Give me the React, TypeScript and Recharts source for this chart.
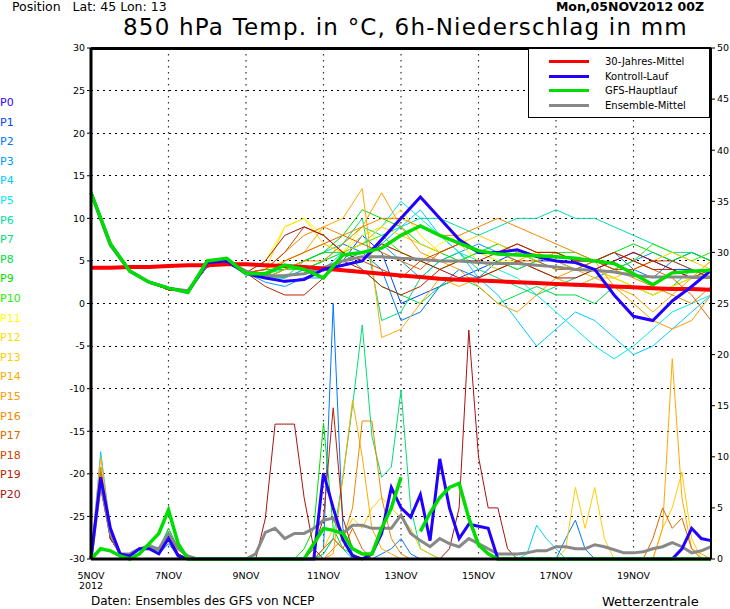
import React from 'react'
import { LineChart, Line, XAxis, YAxis, CartesianGrid, ReferenceLine } from 'recharts'

// 6-hourly steps from 05NOV2012 00Z, 65 steps (0..64)
const DATE_TICKS = [0, 8, 16, 24, 32, 40, 48, 56]
const DATE_LABELS = ['5NOV', '7NOV', '9NOV', '11NOV', '13NOV', '15NOV', '17NOV', '19NOV']
const TEMP_TICKS = [-30, -25, -20, -15, -10, -5, 0, 5, 10, 15, 20, 25, 30]
const RAIN_TICKS = [0, 5, 10, 15, 20, 25, 30, 35, 40, 45, 50]

const MEMBER_COLORS = [
  '#3300ff', '#0044ff', '#0077ff', '#0099ff', '#00ccff', '#00eeee', '#00ddaa', '#00dd77', '#00dd44', '#00dd00',
  '#22ee00', '#ffff00', '#ffdd00', '#ffcc00', '#ffaa00', '#ff9900', '#ee8800', '#dd6600', '#cc4400', '#bb2200', '#aa1111',
]

// 850 hPa temperature, 12-hourly (33 values)
const START = [13, 7, 3.8, 2.5, 1.6, 1.5, 4.3, 4.8, 3.6]
const P1T = [...START, 3, 2.5, 3, 4, 5, 8, 6, 0, 1, 2, 3, 4, 5, 6, 5, 5, 4, 4, 5, 6, 5, 4, 4, 3]
const P2T = [...START, 3.5, 3, 4, 5, 7, 6, 4, -2, -1, 2, 4, 3, 5, 4, 5, 6, 5, 5, 6, 4, 3, 5, 6, 5]
const P3T = [...START, 2.5, 2, 3, 3, 5, 6, 7, 5, 3, 5, 6, 7, 6, 5, 4, 3, 2, 3, 4, 5, 6, 5, 4, 3]
const P4T = [...START, 3, 3, 4, 4, 6, 5, 7, 9, 11, 8, 6, 3, 1, -2, -5, -3, -1, -2, -4, -6, -5, -3, -1, 1]
const P5T = [...START, 3.5, 4, 4, 5, 6, 7, 9, 12, 10, 8, 6, 5, 4, 3, 1, -1, -3, -5, -6.5, -5, -3, -1, 0, 1]
const P6T = [...START, 3, 4, 5, 6, 7, 9, 8, 9, 10, 10, 9, 8, 9, 10, 10, 11, 10, 10, 9, 8, 7, 6, 6, 5]
const P7T = [...START, 3, 4, 4, 5, 7, 10, -2, -1, 3, 5, 6, 4, 3, 2, 1, 2, 3, 4, 3, 2, 1, 2, 3, 3]
const P8T = [...START, 3, 3, 5, 6, 6, 4, 2, 1, 0, 2, 3, 2, 0, 1, 2, 1, 1, 0, 2, 2, 1, 2, 4, 3]
const P9T = [...START, 4, 4, 5, 6, 8, 11, 10, 9, 7, 6, 5, 6, 7, 6, 5, 4, 4, 5, 6, 7, 6, 5, 6, 5]
const P10T = [...START, 3, 4, 4, 5, 6, 7, 8, 6, 5, 4, 5, 6, 5, 4, 5, 6, 6, 5, 4, 5, 7, 6, 5, 6]
const P11T = [...START, 5, 9, 10, 8, 6, 9, 7, 6, 5, 7, 8, 6, 5, 5, 6, 6, 5, 4, 3, 2, 1, 2, 3, 4]
const P12T = [...START, 4, 9, 10, 7, 6, 8, 9, 11, 8, 6, 7, 5, 4, 5, 4, 3, 2, 3, 3, 2, 1, 2, 3, 5]
const P13T = [...START, 3, 5, 6, 7, 6, 7, 9, 8, 7, 6, 7, 8, 7, 6, 5, 6, 5, 4, 3, 4, 5, 6, 5, 4]
const P14T = [...START, 4, 5, 6, 9, 10, 13.5, -4, -3, 0, 3, 2, 3, 4, 5, 6, 5, 4, 3, 2, 1, -1, 1, 3, 5]
const P15T = [...START, 3, 4, 5, 5, 7, 9, 13, 9, 6, 5, 4, 2, 0, -1, 1, 3, 4, 5, 2, 0, -2, -3, -2, 1]
const P16T = [...START, 4, 6, 8, 9, 8, 9, 10, 10, 9, 8, 8, 9, 10, 9, 8, 7, 6, 5, 4, 3, 2, 1, 0, 2]
const P17T = [...START, 3, 5, 6, 7, 8, 7, 6, 5, 4, 6, 7, 6, 6, 5, 5, 4, 4, 5, 6, 5, 4, 3, 1, -2]
const P18T = [...START, 4, 6, 9, 8, 6, 5, 4, 3, 5, 6, 7, 6, 6, 7, 6, 6, 5, 5, 4, 4, 5, 5, 4, 3]
const P19T = [...START, 2, 1, 1, 3, 5, 4, 2, 1, 2, 4, 5, 5, 6, 7, 6, 6, 5, 5, 6, 5, 4, 4, 3, 4]
const P20T = [...START, 5, 8, 9, 8, 6, 5, 7, 6, 5, 4, 3, 3, 4, 5, 4, 3, 3, 4, 5, 6, 5, 4, 3, 3]
const MEMBER_TEMPS = [P1T, P2T, P3T, P4T, P5T, P6T, P7T, P8T, P9T, P10T, P11T, P12T, P13T, P14T, P15T, P16T, P17T, P18T, P19T, P20T]

const CTRL_T = [13, 7, 3.8, 2.5, 1.8, 1.3, 4.8, 5, 3.5, 3, 2.6, 2.8, 4, 4.5, 5, 7.5, 10, 12.5, 10, 7.5, 6, 6, 6.3, 5.5, 5, 4.8, 4, 1, -1.5, -2, 0.3, 2, 3.9]
const GFS_T = [13, 7, 3.8, 2.5, 1.8, 1.3, 5, 5.3, 3.5, 3.5, 4.5, 4, 3, 5.7, 6, 6.5, 8, 9.1, 8, 7.1, 6.2, 5.8, 5.7, 5.6, 5.5, 5.3, 5, 4.7, 3.5, 2.2, 3.6, 3.8, 3.9]
const MEAN_T = [13, 6.8, 3.8, 2.5, 1.8, 1.5, 4.5, 5, 3.8, 3.2, 3.3, 3.5, 4.2, 5, 5.5, 5.5, 5.3, 5.2, 5, 5, 4.8, 4.7, 4.7, 4.5, 4.3, 4, 3.9, 3.7, 3.3, 3.1, 3.1, 3.1, 3.1]
const CLIM_T = [4.2, 4.2, 4.3, 4.3, 4.4, 4.5, 4.5, 4.6, 4.6, 4.5, 4.4, 4.3, 4.1, 3.9, 3.7, 3.5, 3.3, 3.1, 2.9, 2.8, 2.7, 2.6, 2.5, 2.4, 2.3, 2.2, 2.1, 2, 1.9, 1.8, 1.7, 1.7, 1.6]

// 6h precipitation in mm, 6-hourly (65 values)
const Z13 = [0, 0, 0, 0, 0, 0, 0, 0, 0, 0, 0, 0, 0]
const P2R = [0, 9, 2, 0.5, 0.3, 1, 1, 0.5, 1.5, 0.3, 0, 0, 0, 0, 0, 0, 0, 0, 0, 0, 0, 0, 0, 0, 1, 25,
  3, 0.5, 0, 0, 0.5, 1, 2, 0.5, 0, 0, 0, 0, 0, 0, 0, 0, 0, 0, 0, 0, 0, 0, 0, 2, 3.8, 1, ...Z13]
const P4R = [0, 10.5, 3, 0.5, 0.5, 1, 1.5, 1, 3, 1, 0, 0, 0, 0, 0, 0, 0, 0, 0, 0, 0, 0, 0, 0, 0.5, 2,
  1, 0, 0, 0, 0, 0, 0, 0, 0, 0, 0, 0, 0, 0, 0, 0, 0, 0, 0, 0.5, 3.3, 2, 1, 0, 0, 0, ...Z13]
const P7R = [0, 8, 2.5, 0.5, 0.3, 1, 1.3, 1, 2.5, 0.5, 0, 0, 0, 0, 0, 0, 0, 0, 0, 0, 0, 0, 0, 0, 0.5, 2,
  8, 15, 22.9, 12, 8, 9, 16.5, 5, 1, 0.5, 0, 0, 0, ...Z13, ...Z13]
const P9R = [0, 8, 2, 0.5, 0.3, 1, 1, 0.8, 3, 1, 0, 0, 0, 0, 0, 0, 0, 0, 0, 0, 0, 0, 1, 3, 13.3, 3,
  1, 0.5, 0, 0, 0, 0, 0, 0, 0, 0, 0, 0, 0, ...Z13, ...Z13]
const P13R = [0, 9, 2.5, 0.5, 0.5, 1, 1.2, 1, 2, 0.5, 0, 0, 0, 0, 0, 0, 0, 0, 0, 0, 0, 0, 0, 0, 1, 3,
  2, 4, 3, 5, 6, 5, 4, 3, 1, 0.5, 0, 0, 0, 0, 0, 0, 0, 0, 0, 0, 0, 0, 0, 1, 7, 3,
  7, 2, 0, 0, 0, 0, 0, 3, 5, 8.5, 2, 0, 0]
const P14R = [0, 10, 3, 0.5, 0.5, 1, 1, 1, 2, 0.5, 0, 0, 0, 0, 0, 0, 0, 0, 0, 0, 0, 0, 0, 0, 0, 0.5,
  8, 15.5, 10, 3, 1, 0.5, 0, 0, 0, 0, 0, 0, 0, ...Z13,
  0, 0, 0, 0, 0, 0, 0, 3, 19.6, 6, 1, 0.5, 0]
const P16R = [0, 9, 2, 0.5, 0.5, 1, 1.4, 1, 2, 0.5, 0, 0, 0, 0, 0, 0, 0, 0, 0, 0, 0, 0, 0, 0, 0, 1,
  2, 5, 13.5, 13.5, 6, 2, 0.5, 0, 0, 0, 0, 0, 0, ...Z13, ...Z13]
const P17R = [0, 8.5, 2, 0.5, 0.5, 1, 1, 1, 2, 0.5, 0, 0, 0, 0, 0, 0, 0, 0, 0, 0, 0, 0, 0, 0, 1, 2,
  1, 3, 1, 0, 0, 0, 0, 0, 0, 0, 0, 0, 0, ...Z13,
  0, 0, 0, 0, 0, 0, 2, 5, 3, 4, 1, 0, 0]
const P19R = [0, 8, 2, 0.5, 0.3, 1, 1, 1, 2.5, 0.5, 0, 0, 0, 0, 0, 0, 0, 0, 0, 0, 0, 0, 0, 1, 4, 14.8,
  4, 1, 0.5, 0, 0, 0, 0, 0, 0, 0, 0, 0, 0, ...Z13, ...Z13]
const P20R = [0, 7, 2, 0.5, 0.3, 1, 1, 1, 2, 0.5, 0, 0, 0, 0, 0, 0, 0, 0, 4, 13.2, 13.2, 13.2, 6, 1, 0, 0,
  0, 0, 0, 0, 0, 0, 0, 0, 0, 0, 0, 1, 5, 22.4, 10, 5, 5, 1, 0, 0, 0, 0, 0, 0, 0, 0, ...Z13]
const MEMBER_RAIN: [number, number[]][] = [
  [2, P2R], [4, P4R], [7, P7R], [9, P9R], [13, P13R], [14, P14R], [16, P16R], [17, P17R], [19, P19R], [20, P20R],
]

const CTRL_R = [0, 8, 3, 0.5, 0.3, 1, 1, 0.5, 2, 0.3, 0, 0, 0, 0, 0, 0, 0, 0, 0, 0, 0, 0, 0, 0, 8.4, 5,
  1.9, 0.3, 0, 0.5, 2.5, 7, 5, 4.1, 6.3, 1.8, 9.8, 5, 2, 3.4, 3.2, 3, 0, 0, 0, 0, 0, 0, 0, 0, 0, 0,
  0, 0, 0, 0, 0, 0, 0, 0, 0, 1, 3, 2, 1.8]
const GFS_R: (number | null)[] = [0, 1, 0.8, 0.3, 0, 0.5, 1.5, 2.5, 4.8, 1.5, 0, 0, 0, 0, 0, 0, 0, 0, 0, 0, 0, 0, 0, 1.5, 3, 2.8,
  2.5, 1, 0.5, 0.5, 3, 5, 8, null, 2.7, 4.5, 6, 7, 7.4, 4, 1.4, 0.5, 0, 0, 0, 0, 0, 0, 0, 0, 0, 0,
  0, 0, 0, 0, 0, 0, 0, 0, 0, 0, 0, 0, 0]
const MEAN_R = [0, 7.5, 2.5, 0.5, 0.5, 1, 1.2, 1, 2.5, 1, 0.3, 0, 0, 0, 0, 0, 0, 0.5, 2.6, 3, 2, 2.5, 2.5, 3, 3.8, 4,
  2.5, 3.3, 3.3, 3, 3, 3, 4.3, 2.5, 1.8, 1.2, 2, 1.5, 1.2, 2, 1.5, 1, 0.5, 0.5, 0.5, 0.6, 0.8, 0.8, 1.2, 1.2, 1, 1,
  1.4, 1.2, 0.9, 0.6, 0.6, 0.7, 1, 1.2, 1.6, 1.2, 0.6, 0.8, 1.2]

const data = Array.from({ length: 65 }, (_, t) => {
  const row: Record<string, number | null | undefined> = { t }
  const even = t % 2 === 0
  MEMBER_TEMPS.forEach((arr, i) => { row[`p${i + 1}t`] = even ? arr[t / 2] : undefined })
  MEMBER_RAIN.forEach(([m, arr]) => { row[`p${m}r`] = arr[t] })
  row.ctrlT = even ? CTRL_T[t / 2] : undefined
  row.gfsT = even ? GFS_T[t / 2] : undefined
  row.meanT = even ? MEAN_T[t / 2] : undefined
  row.climT = even ? CLIM_T[t / 2] : undefined
  row.ctrlR = CTRL_R[t]
  row.gfsR = GFS_R[t]
  row.meanR = MEAN_R[t]
  return row
})

const font = '"DejaVu Sans", sans-serif'

function DateTick(props: any) {
  const { x, y, payload } = props
  const idx = DATE_TICKS.indexOf(payload.value)
  return (
    <g>
      <text x={x} y={y + 12} textAnchor="middle" fontSize={9.5} fontFamily={font} fill="#000">{DATE_LABELS[idx]}</text>
      {idx === 0 && <text x={x} y={y + 22} textAnchor="middle" fontSize={9.5} fontFamily={font} fill="#000">2012</text>}
    </g>
  )
}

const LEGEND = [
  { label: '30-Jahres-Mittel', color: '#ff0000' },
  { label: 'Kontroll-Lauf', color: '#2200ff' },
  { label: 'GFS-Hauptlauf', color: '#00dd00' },
  { label: 'Ensemble-Mittel', color: '#888888' },
]

export default function App() {
  return (
    <div style={{ position: 'absolute', left: 0, top: 0, width: 730, height: 609, background: '#fff', fontFamily: font }}>
      <div style={{ position: 'absolute', left: 12, top: -1, fontSize: 12.5 }}>Position&nbsp;&nbsp; Lat: 45 Lon: 13</div>
      <div style={{ position: 'absolute', right: 26, top: -1, fontSize: 12.5, fontWeight: 'bold' }}>Mon,05NOV2012 00Z</div>
      <div style={{ position: 'absolute', left: 123, top: 14, fontSize: 23, letterSpacing: 1.2, lineHeight: '26px' }}>850 hPa Temp. in °C, 6h-Niederschlag in mm</div>
      {MEMBER_COLORS.map((c, i) => (
        <div key={i} style={{ position: 'absolute', left: 0, top: 96 + i * 19.6, fontSize: 11, color: c }}>P{i}</div>
      ))}
      <LineChart width={730} height={609} data={data} margin={{ top: 48, left: 61, right: 0, bottom: 30 }}>
        <CartesianGrid stroke="#333" strokeWidth={1.2} strokeDasharray="1.5 4.5" horizontal={false} />
        <XAxis dataKey="t" type="number" domain={[0, 64]} ticks={DATE_TICKS} tick={<DateTick />} interval={0}
          axisLine={{ stroke: '#000', strokeWidth: 3 }} tickLine={false} height={20} />
        <YAxis type="number" domain={[-30, 30]} ticks={TEMP_TICKS} interval={0} width={30}
          tick={{ fontSize: 9.5, fill: '#000', fontFamily: font }} axisLine={{ stroke: '#000', strokeWidth: 3 }}
          tickLine={{ stroke: '#000' }} tickSize={4} />
        <YAxis yAxisId="rain" type="number" orientation="right" domain={[0, 50]} ticks={RAIN_TICKS} interval={0} width={19}
          tick={{ fontSize: 9.5, fill: '#000', fontFamily: font }} axisLine={{ stroke: '#000', strokeWidth: 2 }}
          tickLine={{ stroke: '#000' }} tickSize={4} />
        {TEMP_TICKS.map((v) => (
          <ReferenceLine key={`g${v}`} y={v} stroke="#000" strokeWidth={v === 30 ? 3 : 1}
            strokeDasharray={v === 30 ? undefined : '2 4'} shapeRendering="crispEdges" />
        ))}
        {MEMBER_RAIN.map(([m]) => (
          <Line key={`r${m}`} yAxisId="rain" dataKey={`p${m}r`} stroke={MEMBER_COLORS[m]} strokeWidth={1}
            dot={false} isAnimationActive={false} />
        ))}
        {MEMBER_TEMPS.map((_, i) => (
          <Line key={`t${i}`} dataKey={`p${i + 1}t`} stroke={MEMBER_COLORS[i + 1]} strokeWidth={1}
            dot={false} connectNulls isAnimationActive={false} />
        ))}
        <Line yAxisId="rain" dataKey="meanR" stroke="#888" strokeWidth={3} dot={false} isAnimationActive={false} />
        <Line dataKey="meanT" stroke="#888" strokeWidth={3} dot={false} connectNulls isAnimationActive={false} />
        <Line dataKey="climT" stroke="#ff0000" strokeWidth={4} dot={false} connectNulls isAnimationActive={false} />
        <Line yAxisId="rain" dataKey="ctrlR" stroke="#2200ff" strokeWidth={3} dot={false} isAnimationActive={false} />
        <Line dataKey="ctrlT" stroke="#2200ff" strokeWidth={3} dot={false} connectNulls isAnimationActive={false} />
        <Line yAxisId="rain" dataKey="gfsR" stroke="#00dd00" strokeWidth={3.5} dot={false} isAnimationActive={false} />
        <Line dataKey="gfsT" stroke="#00dd00" strokeWidth={3.5} dot={false} connectNulls isAnimationActive={false} />
      </LineChart>
      <div style={{ position: 'absolute', left: 528, top: 48, width: 180, height: 68, background: '#fff', border: '1.5px solid #000' }}>
        {LEGEND.map((l, i) => (
          <div key={l.label} style={{ position: 'absolute', left: 20, top: 7 + i * 14.5, display: 'flex', alignItems: 'center', fontSize: 10 }}>
            <span style={{ width: 40, height: 3, background: l.color, marginRight: 16 }} />
            {l.label}
          </div>
        ))}
      </div>
      <div style={{ position: 'absolute', left: 91, top: 594, fontSize: 12 }}>Daten: Ensembles des GFS von NCEP</div>
      <div style={{ position: 'absolute', left: 602, top: 594, fontSize: 13 }}>Wetterzentrale</div>
    </div>
  )
}
